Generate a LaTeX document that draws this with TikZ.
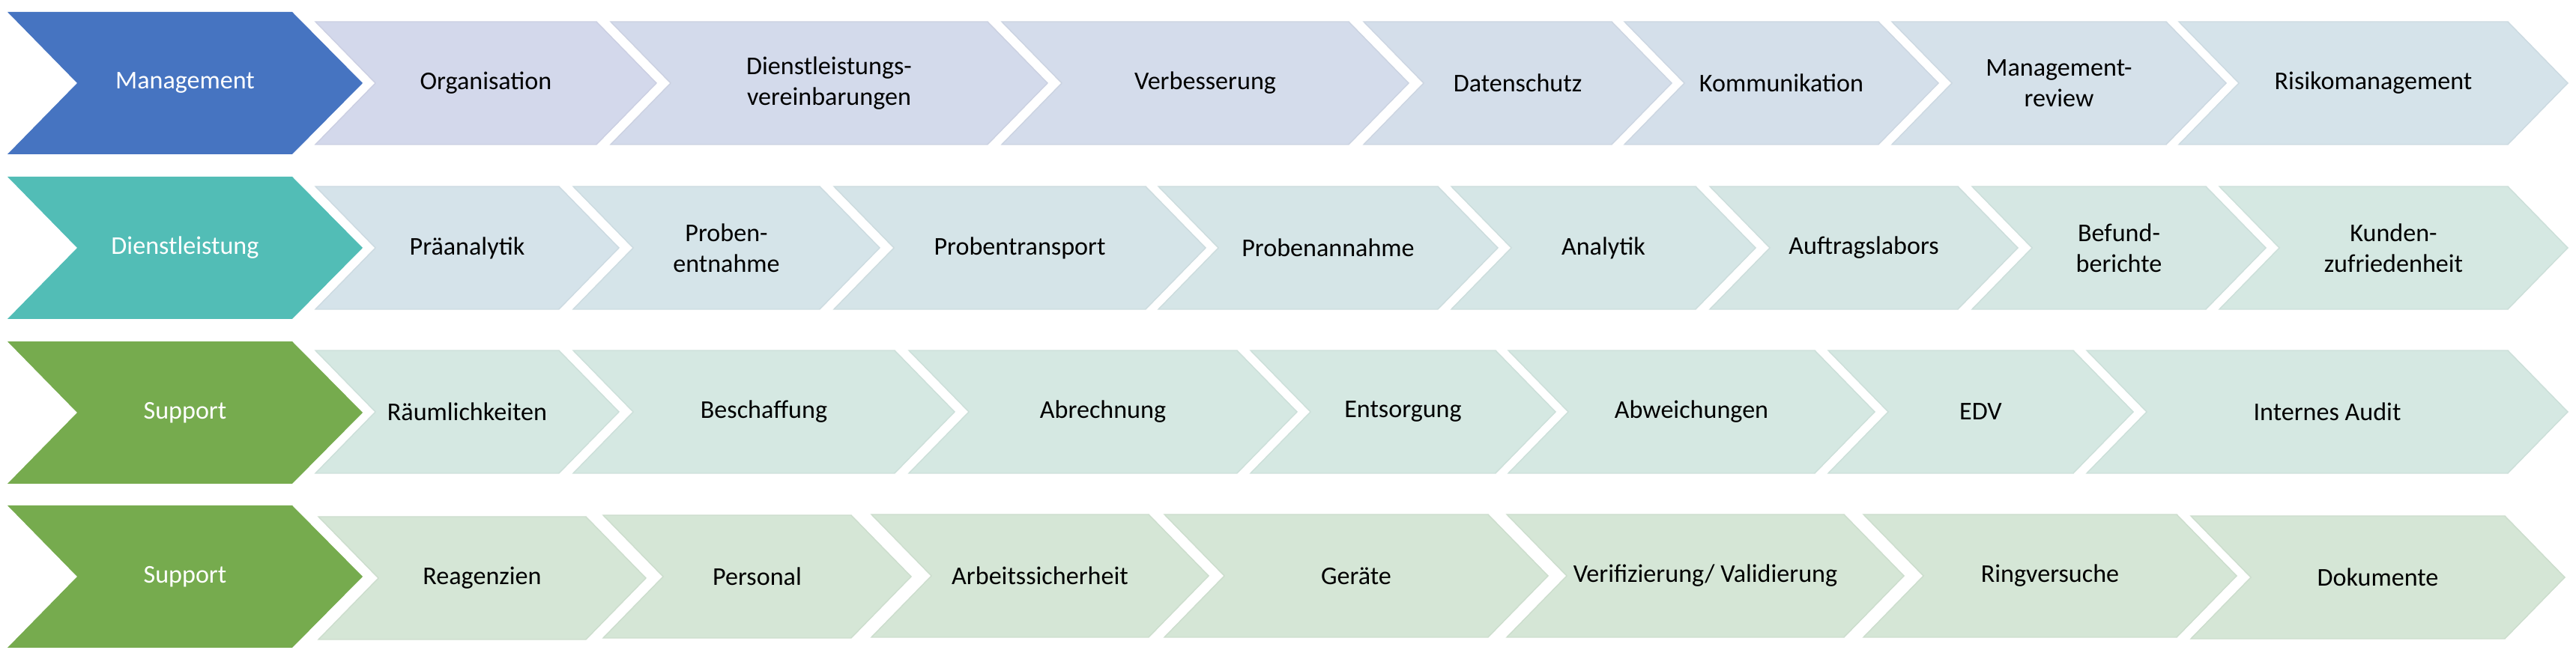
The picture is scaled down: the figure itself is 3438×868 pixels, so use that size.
\documentclass[tikz,border=0pt]{standalone}
\usepackage{fontspec}
\setmainfont{Carlito}
\usepackage{tikz}
\usetikzlibrary{positioning,calc}
\definecolor{mgmt}{HTML}{4674C1}
\definecolor{dienst}{HTML}{52BDB6}
\definecolor{supp}{HTML}{76AB4E}
\definecolor{rowa}{HTML}{D3D8EB}
\definecolor{rowb}{HTML}{D5E3EA}
\definecolor{rowc}{HTML}{D5E8E2}
\definecolor{rowd}{HTML}{D5E6D6}
\tikzstyle{lbl}=[align=center, inner sep=0pt, font=\fontsize{9.7}{11.7}\selectfont, text=black]
\tikzstyle{hlbl}=[lbl, text=white]
\newcommand{\headchev}[4]{%
  \fill[#3] (10,#2-95) -- (390,#2-95) -- (484,#2) -- (390,#2+95) -- (10,#2+95) -- (103,#2) -- cycle;
  \node[hlbl] (#1) at (247,#2) {#4};
}
\newcommand{\stepchev}[6]{%
  \filldraw[fill=#5, draw=#5!96!black, line width=0.4pt] (#2,#4-82) -- (#3,#4-82) -- (#3+80,#4) -- (#3,#4+82) -- (#2,#4+82) -- (#2+80,#4) -- cycle;
  \node[lbl] (#1) at (#2/2+#3/2+40,#4) {#6};
}
\begin{document}
\begin{tikzpicture}[x=0.01cm,y=-0.01cm]
		\useasboundingbox (0,0) rectangle (3438,868);
		\headchev{mgmt}{111}{mgmt}{Management}
		\stepchev{org}{421}{796}{111}{rowa}{Organisation}
		\stepchev{dlv}{815}{1318}{111}{rowa!85!rowb}{Dienstleistungs-\\vereinbarungen}
		\stepchev{verb}{1337}{1800}{111}{rowa!68!rowb}{Verbesserung}
		\stepchev{dsch}{1820}{2151}{111}{rowa!50!rowb}{Datenschutz}
		\stepchev{komm}{2168}{2507}{111}{rowa!35!rowb}{Kommunikation}
		\stepchev{mrev}{2525}{2891}{111}{rowa!18!rowb}{Management-\\review}
		\stepchev{risk}{2908}{3347}{111}{rowb}{Risikomanagement}
		\headchev{dienst}{331}{dienst}{Dienstleistung}
		\stepchev{pra}{421}{746}{331}{rowb}{Präanalytik}
		\stepchev{pent}{765}{1094}{331}{rowb!86!rowc}{Proben-\\entnahme}
		\stepchev{ptr}{1113}{1529}{331}{rowb!72!rowc}{Probentransport}
		\stepchev{pann}{1546}{1919}{331}{rowb!58!rowc}{Probenannahme}
		\stepchev{ana}{1937}{2263}{331}{rowb!44!rowc}{Analytik}
		\stepchev{auft}{2282}{2613}{331}{rowb!30!rowc}{Auftragslabors}
		\stepchev{bef}{2632}{2944}{331}{rowb!15!rowc}{Befund-\\berichte}
		\stepchev{kund}{2962}{3347}{331}{rowc}{Kunden-\\zufriedenheit}
		\headchev{suppa}{551}{supp}{Support}
		\stepchev{raum}{421}{746}{550}{rowc}{Räumlichkeiten}
		\stepchev{besch}{765}{1194}{550}{rowc}{Beschaffung}
		\stepchev{abr}{1213}{1651}{550}{rowc}{Abrechnung}
		\stepchev{ents}{1669}{1996}{550}{rowc}{Entsorgung}
		\stepchev{abw}{2013}{2422}{550}{rowc}{Abweichungen}
		\stepchev{edv}{2440}{2767}{550}{rowc}{EDV}
		\stepchev{audit}{2785}{3347}{550}{rowc}{Internes Audit}
		\headchev{suppb}{770}{supp}{Support}
		\stepchev{reag}{425}{782}{772}{rowd}{Reagenzien}
		\stepchev{pers}{805}{1136}{770}{rowd}{Personal}
		\stepchev{arb}{1163}{1533}{769}{rowd}{Arbeitssicherheit}
		\stepchev{ger}{1554}{1986}{769}{rowd}{Geräte}
		\stepchev{veri}{2011}{2461}{769}{rowd}{Verifizierung/ Validierung}
		\stepchev{ring}{2487}{2905}{769}{rowd}{Ringversuche}
		\stepchev{dok}{2924}{3343}{771}{rowd}{Dokumente}
\end{tikzpicture}
\end{document}
